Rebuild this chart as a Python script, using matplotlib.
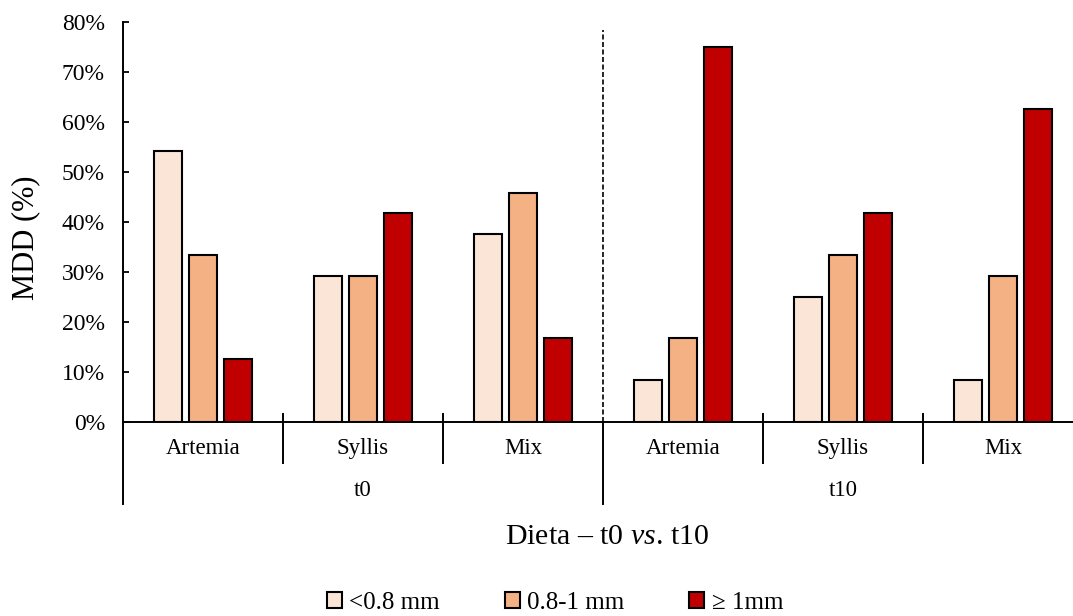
import matplotlib
matplotlib.use("Agg")
import matplotlib.pyplot as plt
import numpy as np
from matplotlib.ticker import FuncFormatter

plt.rcParams['font.family'] = ['Liberation Serif', 'DejaVu Serif']
plt.rcParams['mathtext.fontset'] = 'custom'
plt.rcParams['mathtext.rm'] = 'Liberation Serif'
plt.rcParams['mathtext.it'] = 'Liberation Serif:italic'

# ---- data ----
diets = ["Artemia", "Syllis", "Mix", "Artemia", "Syllis", "Mix"]
periods = ["t0", "t10"]
series_names = ["<0.8 mm", "0.8-1 mm", "\u2265 1mm"]
small = [0.542, 0.292, 0.375, 0.083, 0.250, 0.083]
medium = [0.333, 0.292, 0.458, 0.167, 0.333, 0.292]
large = [0.125, 0.417, 0.167, 0.750, 0.417, 0.625]
yticks = [0.0, 0.1, 0.2, 0.3, 0.4, 0.5, 0.6, 0.7, 0.8]

colors = ["#FBE5D6", "#F4B183", "#C00000"]

W, H = 1073, 616
fig = plt.figure(figsize=(W / 100, H / 100), dpi=100)
ax = fig.add_axes([123 / W, 1 - 421.7 / H, 1 - 123 / W, 400 / H])

x = np.arange(len(diets)) + 0.5
offs = [-0.219, 0.0, 0.219]
bw = 0.178
handles = []
for vals, off, c, name in zip([small, medium, large], offs, colors, series_names):
    b = ax.bar(x + off, vals, width=bw, color=c, edgecolor="black", linewidth=1.5,
               label=name, zorder=3)
    handles.append(b)

ax.set_xlim(0, (W - 123) / 160)
ax.set_ylim(0, 0.8)
ax.set_yticks(yticks)
ax.yaxis.set_major_formatter(FuncFormatter(lambda v, p: f"{v*100:.0f}%"))
ax.tick_params(axis="y", direction="in", length=4.5, width=1.3, pad=13, labelsize=17)

for s in ["top", "right"]:
    ax.spines[s].set_visible(False)
ax.spines["left"].set_linewidth(1.4)
ax.spines["bottom"].set_linewidth(1.4)

# category labels
ax.set_xticks([])
tr = ax.get_xaxis_transform()
for xi, lab in zip(x, diets):
    ax.text(xi, -0.0675, lab, transform=tr, ha="center", va="center", fontsize=16.5)
for gi, per in enumerate(periods):
    ax.text(gi * 3 + 1.5, -0.1725, per, transform=tr, ha="center", va="center", fontsize=16.5)

# separators
for sx in [1, 2, 4, 5]:
    ax.plot([sx, sx], [0.02, -0.1025], transform=tr, color="black", lw=1.4, clip_on=False)
for sx in [0, 3]:
    ax.plot([sx, sx], [0.0, -0.205], transform=tr, color="black", lw=1.4, clip_on=False)

# dashed divider
ax.plot([3, 3], [0, 0.783], color="black", lw=1.2, linestyle=(0, (3, 1.5)), zorder=2)

ax.set_ylabel("MDD (%)", fontsize=22)
ax.yaxis.set_label_coords(-0.087, 0.46)
fig.text(607 / W, 1 - 537 / H, r"Dieta – t0 $\mathit{vs.}\,$t10", ha="center", va="center", fontsize=21.5)

fig.legend(handles=handles, labels=series_names, loc="center", bbox_to_anchor=(555 / W, 1 - 603 / H),
           ncol=3, frameon=False, fontsize=18, handlelength=0.6, handleheight=0.6,
           handletextpad=0.3, columnspacing=2.6, borderpad=0)

fig.savefig("out.png", dpi=100)
